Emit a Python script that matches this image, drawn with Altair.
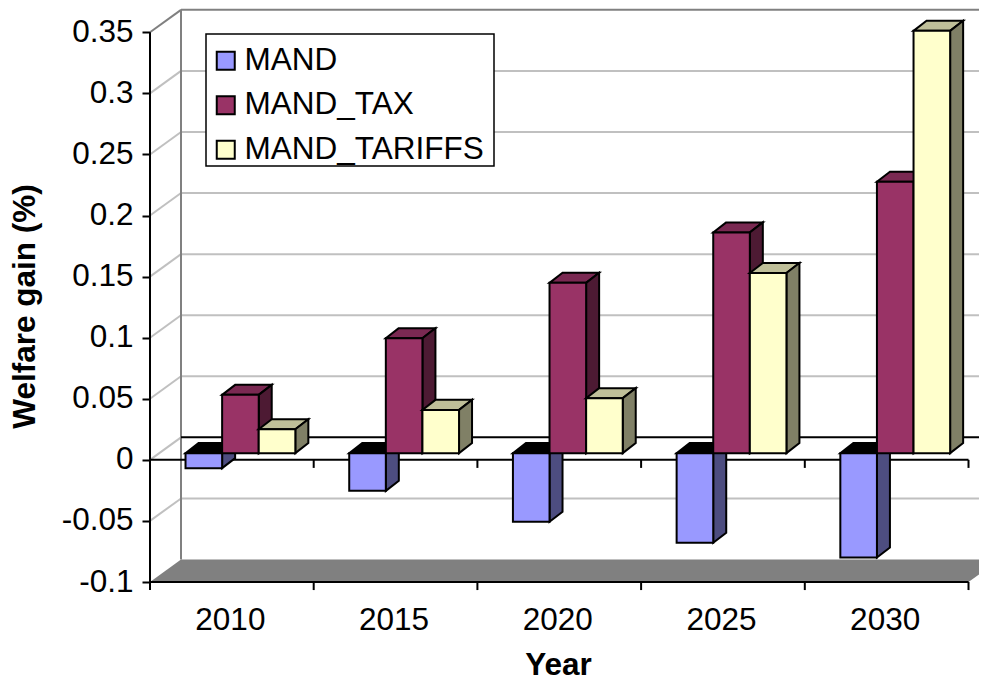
import altair as alt
import pandas as pd

years = ["2010", "2015", "2020", "2025", "2030"]
series = ["MAND", "MAND_TAX", "MAND_TARIFFS"]
mand = [-0.0123, -0.0309, -0.0562, -0.0734, -0.0854]
mand_tax = [0.0477, 0.0941, 0.1394, 0.1807, 0.2221]
mand_tariffs = [0.0196, 0.0354, 0.0450, 0.1474, 0.3457]
y_ticks = [-0.1, -0.05, 0, 0.05, 0.1, 0.15, 0.2, 0.25, 0.3, 0.35]

front_colors = ["#9999FF", "#993366", "#FFFFCC"]
side_colors = ["#4D4D80", "#4D1A33", "#808066"]
top_colors = ["#000000", "#7A2952", "#BFBF99"]

# style constants
FONT = "Liberation Sans"
FS = 31.5
X_MAX = 5.0641
Y_MIN, Y_MAX = -0.1, 0.3699
WALL_DX, WALL_DY = 0.1894, 0.0184
BAR_DX, BAR_DY = 0.0794, 0.0082
BASE = 0.0055
GAP, BW = 0.217, 0.2236
TICK = 0.0066

x_scale = alt.Scale(domain=[0, X_MAX], nice=False, zero=False)
y_scale = alt.Scale(domain=[Y_MIN, Y_MAX], nice=False, zero=False)
x_axis = alt.Axis(
    values=[i + 0.5 for i in range(5)],
    labelExpr="['2010','2015','2020','2025','2030'][floor(datum.value)]",
    ticks=False, domain=False, grid=False, labelFont=FONT, labelFontSize=FS,
    labelColor="#000000", labelPadding=22, labelAngle=0, labelFlush=False, labelOverlap=False,
    labelOffset=-2,
    title="Year", titleFont=FONT, titleFontSize=FS, titleFontWeight="bold", titleColor="#000000",
    titleX=408, titleY=92, titleBaseline="alphabetic")
y_axis = alt.Axis(
    values=y_ticks, labelExpr="'' + datum.value", tickSize=8, tickWidth=2, tickColor="#000000",
    domain=False, grid=False, labelFont=FONT, labelFontSize=FS, labelColor="#000000",
    labelPadding=9, labelOverlap=False, labelFlush=False,
    title="Welfare gain (%)", titleFont=FONT, titleFontSize=FS, titleFontWeight="bold",
    titleColor="#000000", titleX=-115.5, titleY=298, titleBaseline="alphabetic")


def X(f, **kw):
    return alt.X(f, type="quantitative", scale=x_scale, axis=x_axis, **kw)


def Y(f, **kw):
    return alt.Y(f, type="quantitative", scale=y_scale, axis=y_axis, stack=None, **kw)


def segs(rows, color, width, clip=False):
    d = pd.DataFrame(rows, columns=["x", "x2", "y", "y2"])
    return alt.Chart(d).mark_rule(color=color, strokeWidth=width, clip=clip).encode(
        x=X("x"), x2=alt.X2("x2"), y=Y("y"), y2=alt.Y2("y2"))


layers = []

# floor
floor_df = pd.DataFrame({
    "y": [Y_MIN, Y_MIN + WALL_DY], "x": [0, WALL_DX], "x2": [5, 5 + WALL_DX]})
layers.append(alt.Chart(floor_df).mark_area(orient="horizontal", color="#808080", clip=True).encode(
    x=X("x"), x2=alt.X2("x2"), y=Y("y")))

# walls
inner = [t for t in y_ticks if t not in (-0.1, 0.35)]
layers.append(segs([[WALL_DX, X_MAX, t + WALL_DY, t + WALL_DY] for t in inner if t != 0], "#C0C0C0", 2))
layers.append(segs([[0, WALL_DX, t, t + WALL_DY] for t in inner], "#C0C0C0", 2))
layers.append(segs([[0, WALL_DX, 0.35, 0.35 + WALL_DY],
                    [WALL_DX, X_MAX, 0.35 + WALL_DY, 0.35 + WALL_DY],
                    [WALL_DX, WALL_DX, Y_MIN + WALL_DY, 0.35 + WALL_DY]], "#808080", 2))
# zero plane and axis lines
layers.append(segs([[WALL_DX, X_MAX, WALL_DY, WALL_DY]], "#000000", 2))
layers.append(segs([[0, 5, 0, 0], [0, 5, Y_MIN, Y_MIN], [0, 0, Y_MIN, 0.35]], "#000000", 2))
layers.append(segs([[i, i, b, b - TICK] for i in range(6) for b in (0, Y_MIN)], "#000000", 2))

# legend box
layers.append(alt.Chart(pd.DataFrame({"k": [0]})).mark_rect(
    fill="#FFFFFF", stroke="#000000", strokeWidth=1.5).encode(
    x=alt.value(56), x2=alt.value(344), y=alt.value(26), y2=alt.value(158)))

# bars
for s, (name, vals) in enumerate(zip(series, [mand, mand_tax, mand_tariffs])):
    front, side, top = [], [], []
    for i, v in enumerate(vals):
        xl = i + GAP + s * BW
        xr = xl + BW
        lo, hi = min(v, 0) + BASE, max(v, 0) + BASE
        front.append(dict(series=name, xl=xl, xr=xr, lo=lo, hi=hi))
        side += [dict(b=i, x=xr, lo=lo, hi=hi),
                 dict(b=i, x=xr + BAR_DX, lo=lo + BAR_DY, hi=hi + BAR_DY)]
        top += [dict(b=i, y=hi, x=xl, x2=xr),
                dict(b=i, y=hi + BAR_DY, x=xl + BAR_DX, x2=xr + BAR_DX)]
    layers.append(alt.Chart(pd.DataFrame(top)).mark_area(
        orient="horizontal", color=top_colors[s], stroke="#000000", strokeWidth=2).encode(
        x=X("x"), x2=alt.X2("x2"), y=Y("y"), detail="b:N"))
    layers.append(alt.Chart(pd.DataFrame(side)).mark_area(
        orient="vertical", color=side_colors[s], stroke="#000000", strokeWidth=2).encode(
        x=X("x"), y=Y("lo"), y2=alt.Y2("hi"), detail="b:N"))
    layers.append(alt.Chart(pd.DataFrame(front)).mark_rect(stroke="#000000", strokeWidth=2).encode(
        x=X("xl"), x2=alt.X2("xr"), y=Y("lo"), y2=alt.Y2("hi"),
        fill=alt.Fill("series:N", scale=alt.Scale(domain=series, range=front_colors), legend=alt.Legend(
            title=None, orient="none", legendX=60, legendY=37, padding=0, symbolType="square", symbolSize=324,
            symbolStrokeColor="#000000", symbolStrokeWidth=2, labelFont=FONT, labelFontSize=FS,
            labelColor="#000000", labelOffset=3, rowPadding=11.5, labelLimit=400))))

chart = alt.layer(*layers).properties(
    width=829, height=574,
    autosize=alt.AutoSizeParams(type="none"),
    padding={"left": 142, "top": 0, "right": 0, "bottom": 95},
    background="#FFFFFF",
).configure_view(stroke=None)

chart.save("out.html", embed_options={"renderer": "svg", "actions": False})
